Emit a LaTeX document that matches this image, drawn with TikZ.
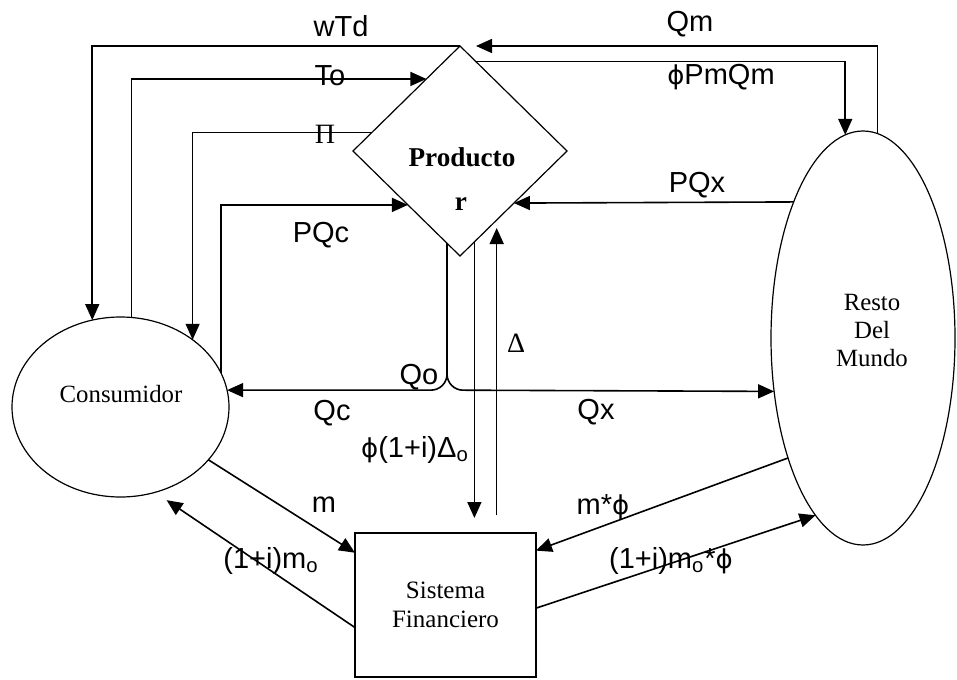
\documentclass[tikz,border=0pt]{standalone}
\usepackage{fontspec}
\setmainfont{Liberation Serif}
\newfontfamily\arialfont{Liberation Sans}
\newfontfamily\phifont{DejaVu Sans}
\newcommand\phisym{{\phifont\fontsize{13}{16}\selectfont ϕ}}
\usetikzlibrary{shapes.geometric,arrows.meta}

\begin{document}
\begin{tikzpicture}[x=0.5pt, y=-0.5pt, >={Triangle[length=8pt,width=7pt]},
    flow/.style={->, thick},
    agent/.style={draw, semithick, inner sep=0pt, outer sep=0pt},
    agenttxt/.style={font=\fontsize{12.4}{14}\selectfont, align=center},
    lbl/.style={font=\arialfont\fontsize{14.5}{16}\selectfont, inner sep=0pt}]
            \useasboundingbox (0,0) rectangle (957,679);

            \node[agent, diamond, minimum width=107pt, minimum height=105pt] (prod) at (460,151) {};
            \node[agent, ellipse, minimum width=108.5pt, minimum height=90pt] (cons) at (120.5,407) {};
            \node[agent, ellipse, minimum width=92pt, minimum height=207pt] (rdm) at (863,338) {};
            \node[agent, rectangle, minimum width=90.5pt, minimum height=72pt, agenttxt, font=\fontsize{12.5}{14.5}\selectfont] (fin) at (445.5,605) {Sistema\\Financiero};

            \node[font=\bfseries\fontsize{13.6}{16}\selectfont] (prodTxt) at (462,157) {Producto};
            \node[font=\bfseries\fontsize{13.6}{16}\selectfont] (prodR) at (461,204) {r};
            \node[agenttxt] (consTxt) at (121,394) {Consumidor};
            \node[agenttxt] (rdmTxt) at (872,330) {Resto\\Del\\Mundo};

            \draw[flow] (prod.north) -| (cons.108);
            \draw[flow] (rdm.86) |- ([xshift=8pt]prod.north);
            \draw[flow] (prod.80) -| (rdm.95);
            \draw[flow] (cons.83) |- (prod.115);
            \draw[flow] (prod.168) -| (cons.43);
            \draw[flow] (cons.19) |- (prod.226);
            \draw[flow] (rdm.117) -- (prod.-44);

            \coordinate (fork) at (prod.262 |- cons.9);
            \draw[flow, rounded corners=8pt] (prod.262) -- (fork) -- (cons.9);
            \draw[flow, rounded corners=8pt] (prod.262) -- (fork) -- (rdm.211);

            \draw[flow, shorten >=7.5pt] (prod.-81) -- (prod.-81 |- fin.north);
            \draw[flow, shorten <=9pt, shorten >=4pt] (prod.-62 |- fin.north) -- (prod.-62);

            \draw[flow] (cons.-31) -- (fin.150);
            \draw[flow, shorten >=7pt] (fin.194) -- (cons.-68);
            \draw[flow] (rdm.238) -- (fin.31);
            \draw[flow] (fin.-2) -- (rdm.255);

            \node[lbl] (lblWTd) at (341,26) {wTd};
            \node[lbl] (lblQm) at (690,24) {Qm};
            \node[lbl] (lblPmQm) at (721,77) {\phisym PmQm};
            \node[lbl] (lblTo) at (330,76) {To};
            \node[font=\fontsize{14}{16}\selectfont, inner sep=0pt] (lblPi) at (325,134) {Π};
            \node[lbl] (lblPQc) at (321,235) {PQc};
            \node[lbl] (lblPQx) at (697,185) {PQx};
            \node[lbl] (lblQo) at (419,377) {Qo};
            \node[lbl] (lblQc) at (332,413) {Qc};
            \node[lbl] (lblQx) at (596,412) {Qx};
            \node[font=\fontsize{14}{16}\selectfont, inner sep=0pt] (lblDelta) at (516,343) {Δ};
            \node[lbl] (lblDeltaO) at (415,450) {\phisym(1+i)Δ\textsubscript{o}};
            \node[lbl] (lblM) at (324,505) {m};
            \node[lbl] (lblMo) at (271,561) {(1+i)m\textsubscript{o}};
            \node[lbl] (lblMPhi) at (603,507) {m*\phisym};
            \node[lbl] (lblMoPhi) at (671,561) {(1+i)m\textsubscript{o}*\phisym};
        \end{tikzpicture}
\end{document}
